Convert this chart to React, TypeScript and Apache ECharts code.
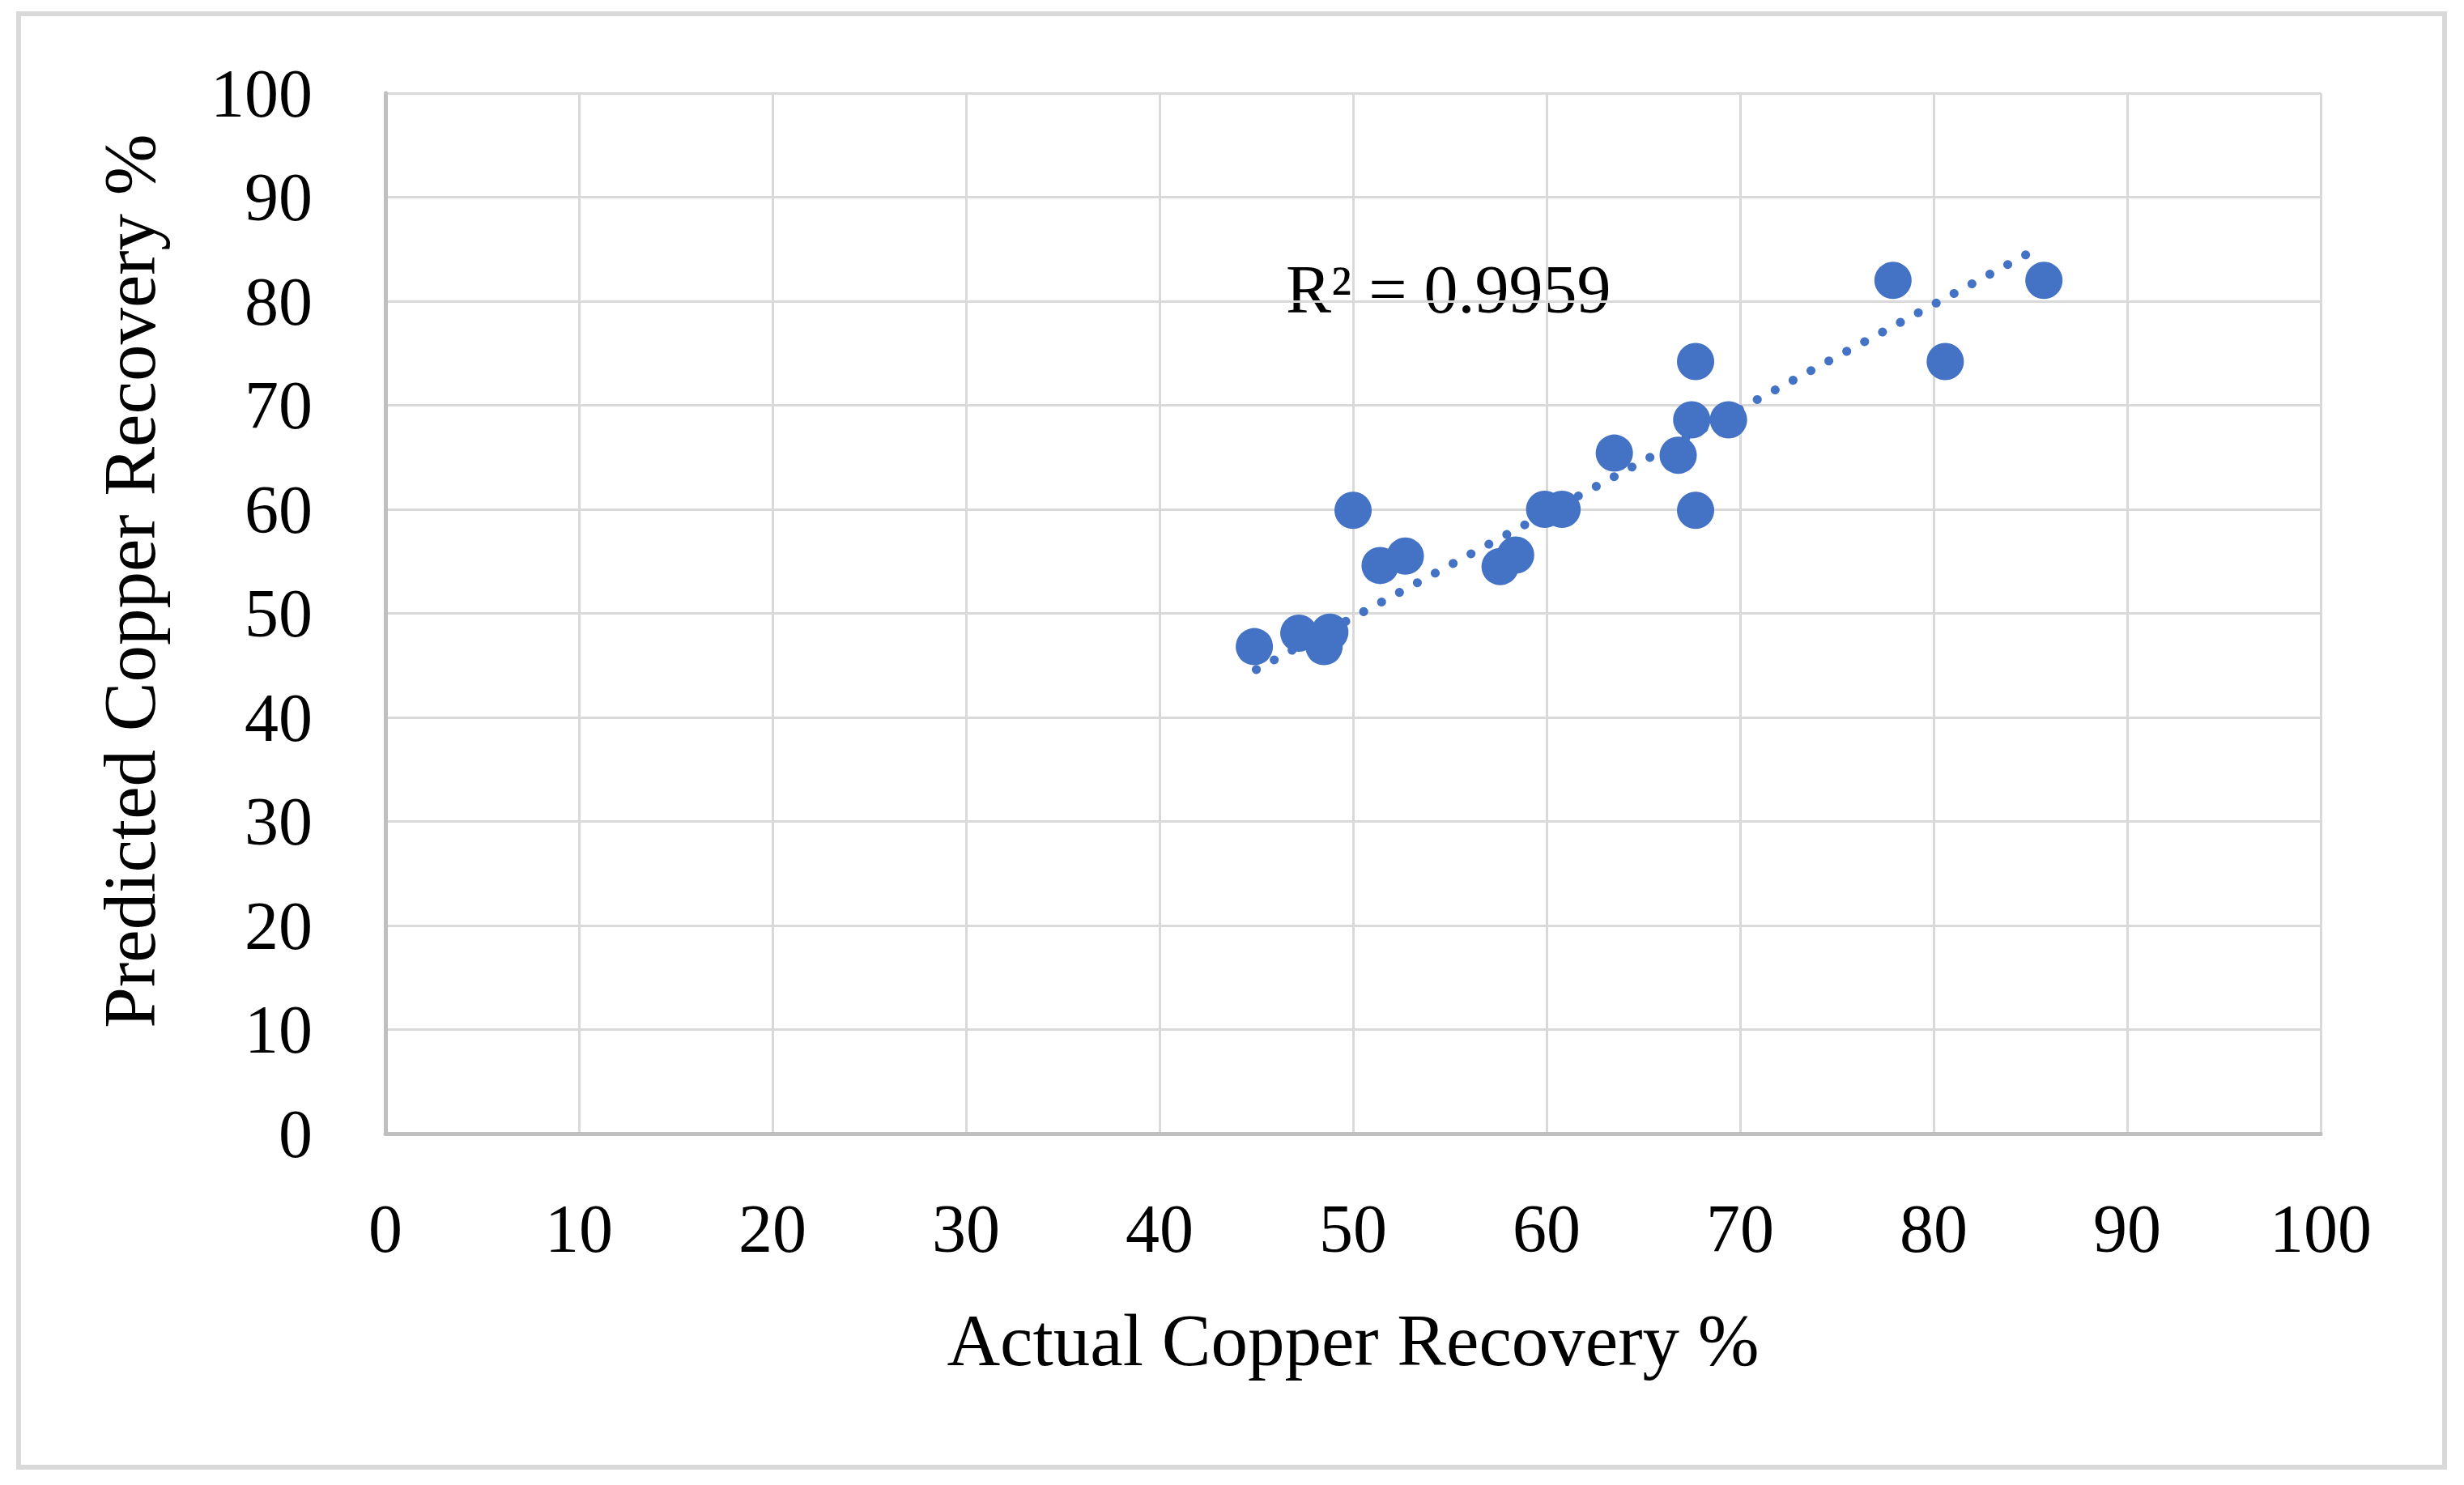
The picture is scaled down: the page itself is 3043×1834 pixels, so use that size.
import React, { useEffect, useRef } from "react";
import * as echarts from "echarts";

// Actual vs predicted copper recovery (%)
const actualRecovery = [44.9, 47.2, 48.5, 48.8, 50.0, 51.4, 52.7, 57.6, 58.4, 59.9, 60.8, 63.5, 66.8, 67.5, 69.4, 67.7, 67.7, 77.9, 80.6, 85.7];
const predictedRecovery = [46.8, 48.1, 46.8, 48.2, 59.9, 54.6, 55.5, 54.5, 55.6, 60.0, 60.0, 65.4, 65.2, 68.6, 68.6, 74.2, 59.9, 82.0, 74.2, 82.0];

// Linear trendline end points
const trendX = [45.0, 85.6];
const trendY = [44.6, 85.3];

const rSquaredLabel = "R² = 0.9959";
const xTitle = "Actual Copper Recovery %";
const yTitle = "Predicted Copper Recovery %";

const FONT = "'Liberation Serif', 'DejaVu Serif', serif";

export default function App() {
  const ref = useRef<HTMLDivElement>(null);

  useEffect(() => {
    if (!ref.current) return;
    const chart = echarts.init(ref.current, null, { renderer: "svg" });
    const points = actualRecovery.map((x, i) => [x, predictedRecovery[i]]);
    const trend = trendX.map((x, i) => [x, trendY[i]]);

    chart.setOption({
      animation: false,
      backgroundColor: "#ffffff",
      textStyle: { fontFamily: FONT },
      grid: { left: 476, right: 177, top: 115, bottom: 434, containLabel: false },
      xAxis: {
        type: "value",
        min: 0,
        max: 100,
        interval: 10,
        name: xTitle,
        nameLocation: "middle",
        nameGap: 210,
        nameTextStyle: { fontFamily: FONT, fontSize: 91, color: "#000000" },
        axisLine: { show: true, onZero: false, lineStyle: { color: "#bfbfbf", width: 5 } },
        axisTick: { show: false },
        axisLabel: { margin: 75, fontFamily: FONT, fontSize: 84, color: "#000000" },
        splitLine: { show: true, lineStyle: { color: "#d9d9d9", width: 3 } },
      },
      yAxis: {
        type: "value",
        min: 0,
        max: 100,
        interval: 10,
        name: yTitle,
        nameLocation: "middle",
        nameRotate: 90,
        nameGap: 270,
        nameTextStyle: { fontFamily: FONT, fontSize: 91, color: "#000000", padding: [0, 0, 0, 80] },
        axisLine: { show: true, onZero: false, lineStyle: { color: "#bfbfbf", width: 5 } },
        axisTick: { show: false },
        axisLabel: { margin: 90, fontFamily: FONT, fontSize: 84, color: "#000000" },
        splitLine: { show: true, lineStyle: { color: "#d9d9d9", width: 3 } },
      },
      series: [
        {
          type: "scatter",
          data: points,
          symbol: "circle",
          symbolSize: 46,
          itemStyle: { color: "#4472C4", opacity: 1 },
          emphasis: { disabled: true },
          z: 2,
        },
        {
          type: "line",
          data: trend,
          symbol: "none",
          lineStyle: { color: "#4472C4", width: 11, type: [0.1, 25], cap: "round" },
          emphasis: { disabled: true },
          z: 3,
        },
      ],
      graphic: [
        {
          type: "rect",
          shape: { x: 23, y: 17, width: 2996, height: 1795 },
          style: { fill: "none", stroke: "#d9d9d9", lineWidth: 6 },
          z: -1,
        },
        {
          type: "text",
          x: 1588,
          y: 357,
          style: {
            text: rSquaredLabel,
            fontFamily: FONT,
            fontSize: 84,
            fill: "#000000",
            align: "left",
            verticalAlign: "middle",
          },
        },
      ],
    });

    return () => chart.dispose();
  }, []);

  return (
    <div
      ref={ref}
      style={{ position: "fixed", left: 0, top: 0, width: 3043, height: 1834, background: "#ffffff" }}
    />
  );
}
